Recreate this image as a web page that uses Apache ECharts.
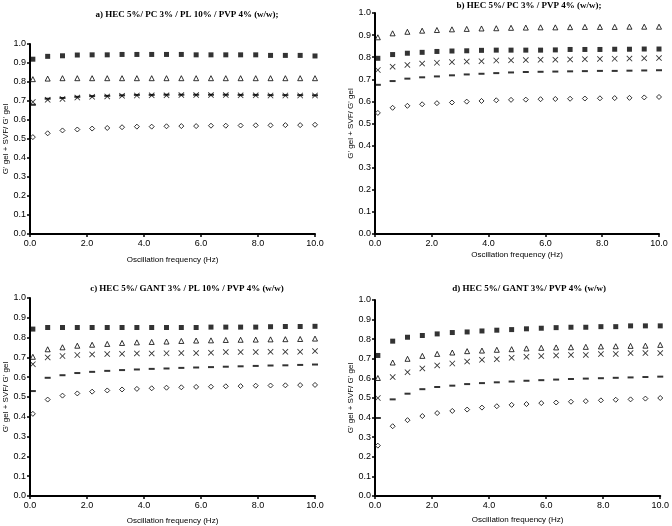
<!DOCTYPE html>
<html>
<head>
<meta charset="utf-8">
<script src="https://cdn.jsdelivr.net/npm/echarts@6/dist/echarts.min.js"></script>
<style>
  html, body { margin: 0; padding: 0; background: #fff; }
  #main { width: 672px; height: 526px; }
</style>
</head>
<body>
<div id="main"></div>
<script>
// frequencies (Hz), same for all four panels
const freq = [0.1, 0.62, 1.14, 1.66, 2.18, 2.71, 3.23, 3.75, 4.27, 4.79, 5.31, 5.83, 6.35, 6.87, 7.39, 7.92, 8.44, 8.96, 9.48, 10.0];

// a) HEC 5%/ PC 3% / PL 10% / PVP 4%
const aSquare   = [0.92, 0.935, 0.938, 0.942, 0.943, 0.943, 0.945, 0.945, 0.945, 0.945, 0.945, 0.943, 0.943, 0.943, 0.943, 0.943, 0.94, 0.94, 0.94, 0.937];
const aTriangle = [0.815, 0.818, 0.82, 0.82, 0.82, 0.82, 0.82, 0.82, 0.82, 0.82, 0.82, 0.82, 0.82, 0.82, 0.82, 0.82, 0.82, 0.82, 0.82, 0.82];
const aCross    = [0.695, 0.706, 0.711, 0.718, 0.722, 0.724, 0.727, 0.729, 0.73, 0.73, 0.731, 0.731, 0.731, 0.731, 0.73, 0.73, 0.729, 0.729, 0.729, 0.729];
const aDash     = [0.68, 0.712, 0.716, 0.722, 0.726, 0.727, 0.73, 0.732, 0.732, 0.733, 0.733, 0.733, 0.733, 0.733, 0.732, 0.732, 0.731, 0.731, 0.731, 0.73];
const aDiamond  = [0.51, 0.53, 0.545, 0.55, 0.555, 0.558, 0.562, 0.565, 0.565, 0.567, 0.568, 0.568, 0.57, 0.57, 0.571, 0.572, 0.572, 0.573, 0.573, 0.575];

// b) HEC 5%/ PC 3% / PVP 4%
const bSquare   = [0.795, 0.812, 0.818, 0.822, 0.826, 0.828, 0.829, 0.831, 0.832, 0.832, 0.832, 0.832, 0.833, 0.835, 0.835, 0.835, 0.836, 0.836, 0.837, 0.837];
const bTriangle = [0.89, 0.908, 0.915, 0.92, 0.923, 0.926, 0.928, 0.93, 0.931, 0.933, 0.934, 0.935, 0.935, 0.936, 0.937, 0.937, 0.937, 0.938, 0.938, 0.938];
const bCross    = [0.742, 0.757, 0.765, 0.771, 0.775, 0.778, 0.78, 0.782, 0.785, 0.786, 0.787, 0.788, 0.789, 0.79, 0.791, 0.792, 0.793, 0.794, 0.795, 0.796];
const bDash     = [0.675, 0.692, 0.703, 0.709, 0.713, 0.718, 0.722, 0.725, 0.728, 0.731, 0.733, 0.734, 0.735, 0.736, 0.737, 0.738, 0.738, 0.739, 0.74, 0.741];
const bDiamond  = [0.548, 0.571, 0.58, 0.587, 0.592, 0.595, 0.599, 0.602, 0.605, 0.607, 0.608, 0.61, 0.611, 0.612, 0.613, 0.614, 0.615, 0.616, 0.618, 0.62];

// c) HEC 5%/ GANT 3% / PL 10% / PVP 4%
const cSquare   = [0.843, 0.851, 0.851, 0.851, 0.851, 0.851, 0.851, 0.851, 0.851, 0.851, 0.851, 0.851, 0.853, 0.853, 0.853, 0.853, 0.855, 0.856, 0.856, 0.857];
const cTriangle = [0.703, 0.741, 0.751, 0.759, 0.764, 0.768, 0.773, 0.776, 0.778, 0.78, 0.783, 0.785, 0.786, 0.788, 0.789, 0.79, 0.791, 0.792, 0.793, 0.795];
const cCross    = [0.666, 0.7, 0.707, 0.712, 0.715, 0.717, 0.718, 0.72, 0.72, 0.721, 0.722, 0.722, 0.724, 0.727, 0.727, 0.727, 0.728, 0.728, 0.728, 0.732];
const cDash     = [0.53, 0.597, 0.61, 0.621, 0.627, 0.632, 0.636, 0.639, 0.642, 0.644, 0.647, 0.649, 0.651, 0.653, 0.655, 0.657, 0.659, 0.66, 0.662, 0.664];
const cDiamond  = [0.415, 0.487, 0.507, 0.518, 0.527, 0.533, 0.538, 0.541, 0.544, 0.547, 0.549, 0.551, 0.552, 0.554, 0.555, 0.557, 0.558, 0.559, 0.56, 0.561];

// d) HEC 5%/ GANT 3%/ PVP 4%
const dSquare   = [0.717, 0.79, 0.81, 0.819, 0.827, 0.834, 0.837, 0.842, 0.846, 0.849, 0.853, 0.856, 0.859, 0.861, 0.861, 0.864, 0.864, 0.868, 0.868, 0.868];
const dTriangle = [0.602, 0.681, 0.7, 0.715, 0.725, 0.732, 0.739, 0.742, 0.746, 0.749, 0.753, 0.756, 0.758, 0.759, 0.761, 0.763, 0.764, 0.766, 0.767, 0.771];
const dCross    = [0.5, 0.607, 0.632, 0.651, 0.666, 0.676, 0.686, 0.695, 0.698, 0.705, 0.71, 0.714, 0.717, 0.72, 0.72, 0.724, 0.725, 0.729, 0.729, 0.729];
const dDash     = [0.398, 0.493, 0.522, 0.545, 0.556, 0.563, 0.571, 0.576, 0.58, 0.584, 0.588, 0.591, 0.594, 0.597, 0.599, 0.601, 0.603, 0.605, 0.607, 0.609];
const dDiamond  = [0.257, 0.356, 0.387, 0.408, 0.423, 0.434, 0.441, 0.451, 0.458, 0.465, 0.469, 0.474, 0.477, 0.481, 0.484, 0.488, 0.491, 0.493, 0.497, 0.5];

const titles = [
  'a) HEC 5%/ PC 3% / PL 10% / PVP 4% (w/w);',
  'b) HEC 5%/ PC 3% / PVP 4% (w/w);',
  'c) HEC 5%/ GANT 3% / PL 10% / PVP 4% (w/w)',
  'd) HEC 5%/ GANT 3%/ PVP 4% (w/w)'
];
const xName = 'Oscillation frequency (Hz)';
const yName = "G' gel + SVF/ G' gel";

const panels = [
  [aSquare, aTriangle, aCross, aDash, aDiamond],
  [bSquare, bTriangle, bCross, bDash, bDiamond],
  [cSquare, cTriangle, cCross, cDash, cDiamond],
  [dSquare, dTriangle, dCross, dDash, dDiamond]
];

// layout of the four plots
const grids = [
  { left: 30, top: 44, width: 285, height: 190 },
  { left: 375, top: 13, width: 284, height: 221 },
  { left: 30, top: 298, width: 285, height: 198 },
  { left: 375, top: 300, width: 288, height: 196 }
];
const titlePos = [[187, 10], [529, 1], [187, 284], [529, 284]];
const xGap = [22, 17, 21, 20];

const crossPath = 'path://M0,1L1,0L5,4L9,0L10,1L6,5L10,9L9,10L5,6L1,10L0,9L4,5Z';
const markers = [
  { symbol: 'rect', symbolSize: 5, itemStyle: { color: '#000' } },
  { symbol: 'triangle', symbolSize: 5, itemStyle: { color: '#fff', borderColor: '#000', borderWidth: 1 } },
  { symbol: crossPath, symbolSize: 6, itemStyle: { color: '#000' } },
  { symbol: 'rect', symbolSize: [6, 2], itemStyle: { color: '#000' } },
  { symbol: 'diamond', symbolSize: 5, itemStyle: { color: '#fff', borderColor: '#000', borderWidth: 1 } }
];

const chart = echarts.init(document.getElementById('main'));
const axisFont = { fontFamily: 'Liberation Sans', fontSize: 9, color: '#000' };

const option = {
  animation: false,
  backgroundColor: '#fff',
  title: titles.map((t, i) => ({
    text: t,
    left: titlePos[i][0],
    top: titlePos[i][1],
    textAlign: 'center',
    padding: 0,
    textStyle: { fontFamily: 'Liberation Serif', fontWeight: 'bold', fontSize: 9, color: '#000' }
  })),
  grid: grids,
  xAxis: grids.map((g, i) => ({
    gridIndex: i,
    type: 'value',
    min: 0, max: 10, interval: 2,
    name: xName,
    nameLocation: 'middle',
    nameGap: xGap[i],
    nameTextStyle: { fontFamily: 'Liberation Sans', fontSize: 8, color: '#000' },
    axisLine: { lineStyle: { color: '#000', width: 2 } },
    axisTick: { show: true, length: 3, lineStyle: { color: '#000', width: 1.5 } },
    axisLabel: Object.assign({ margin: 5, formatter: v => v.toFixed(1) }, axisFont),
    splitLine: { show: false }
  })),
  yAxis: grids.map((g, i) => ({
    gridIndex: i,
    type: 'value',
    min: 0, max: 1, interval: 0.1,
    name: yName,
    nameLocation: 'middle',
    nameGap: 16,
    nameTextStyle: { fontFamily: 'Liberation Sans', fontSize: 8, color: '#000' },
    axisLine: { show: true, lineStyle: { color: '#000', width: 2 } },
    axisTick: { show: true, length: 3, lineStyle: { color: '#000', width: 1.5 } },
    axisLabel: Object.assign({ margin: 4, formatter: v => v.toFixed(1) }, axisFont),
    splitLine: { show: false }
  })),
  series: []
};

panels.forEach((sets, p) => {
  sets.forEach((vals, k) => {
    option.series.push(Object.assign({
      type: 'scatter',
      xAxisIndex: p,
      yAxisIndex: p,
      data: freq.map((f, j) => [f, vals[j]])
    }, markers[k]));
  });
});

chart.setOption(option);
</script>
</body>
</html>
